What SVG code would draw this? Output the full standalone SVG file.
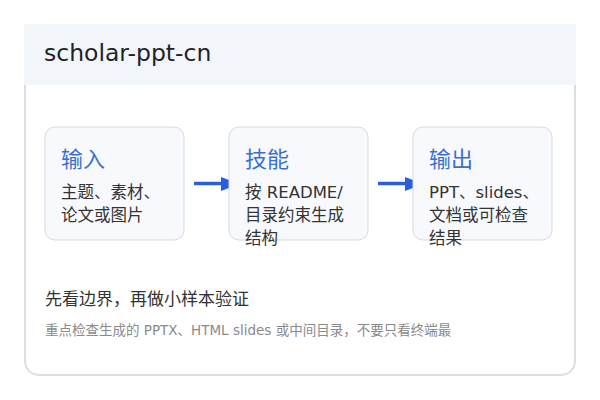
<svg xmlns="http://www.w3.org/2000/svg" width="600" height="400" viewBox="0 0 600 400">
<defs>
<style>
text{font-family:"DejaVu Sans","Noto Sans CJK SC",sans-serif}
.title{font-size:23.5px;fill:#1f2328}
.card{fill:#f7f9fc;stroke:#d3dbe5;stroke-width:1}
.h{font-size:22px;fill:#3a6fd0}
.b{font-size:16.5px;fill:#333}
.conn{stroke:#2a5fdc;stroke-width:3.5;fill:none}
.head{fill:#2a5fdc}
</style>
</defs>
<rect x="0" y="0" width="600" height="400" fill="#ffffff"/>
<path d="M25,85 V361 A14,14 0 0 0 39,375 H561 A14,14 0 0 0 575,361 V85" fill="#fff" stroke="#d9dee5" stroke-width="2"/>
<rect x="24" y="24" width="552" height="61" fill="#f2f6fa"/>
<text class="title" x="44" y="61">scholar-ppt-cn</text>
<g id="connectors">
<line class="conn" x1="194" y1="183.5" x2="222" y2="183.5"/>
<polygon class="head" points="221,177 221,191 240,184"/>
<line class="conn" x1="378" y1="183.5" x2="406" y2="183.5"/>
<polygon class="head" points="405,177 405,191 424,184"/>
</g>
<g id="node-input">
<rect class="card" x="45" y="127" width="139" height="113" rx="10"/>
<text class="h" x="61" y="167">输入</text>
<text class="b" x="61" y="198">主题、素材、</text>
<text class="b" x="61" y="221">论文或图片</text>
</g>
<g id="node-skill">
<rect class="card" x="229" y="127" width="139" height="113" rx="10"/>
<text class="h" x="245" y="167">技能</text>
<text class="b" x="245" y="198">按 README/</text>
<text class="b" x="245" y="221">目录约束生成</text>
<text class="b" x="245" y="244">结构</text>
</g>
<g id="node-output">
<rect class="card" x="413" y="127" width="139" height="113" rx="10"/>
<text class="h" x="429" y="167">输出</text>
<text class="b" x="429" y="198">PPT、slides、</text>
<text class="b" x="429" y="221">文档或可检查</text>
<text class="b" x="429" y="244">结果</text>
</g>
<text x="45" y="305" font-size="17" fill="#333">先看边界，再做小样本验证</text>
<text x="45" y="335" font-size="13.5" fill="#8a8a8a">重点检查生成的 PPTX、HTML slides 或中间目录，不要只看终端最</text>
</svg>
